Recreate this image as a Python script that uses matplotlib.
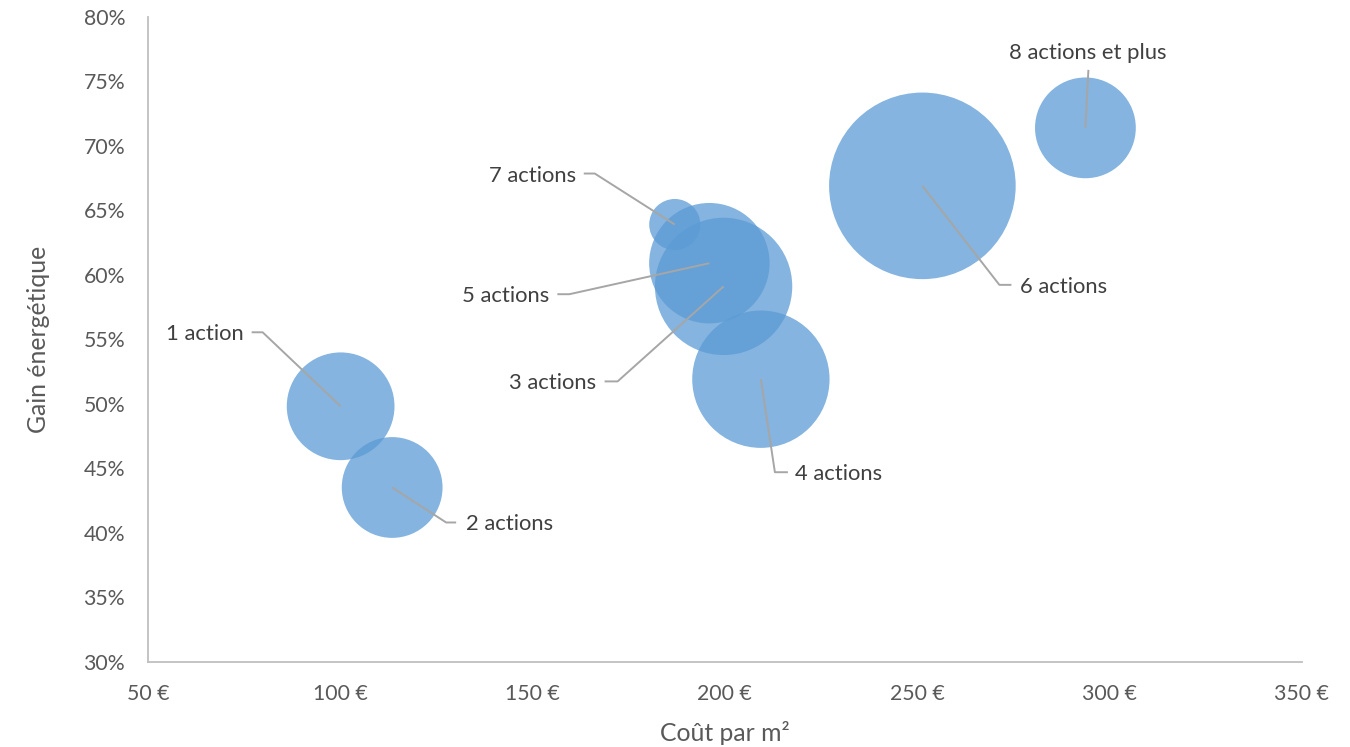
import matplotlib
matplotlib.use("Agg")
import matplotlib.pyplot as plt
from matplotlib.ticker import FuncFormatter, MultipleLocator

# ---- data ----
labels = ["1 action", "2 actions", "3 actions", "4 actions", "5 actions",
          "6 actions", "7 actions", "8 actions et plus"]
cost = [100.1, 113.5, 199.7, 209.4, 196.0, 251.4, 187.0, 293.8]        # € / m²
gain = [49.8, 43.5, 59.1, 51.9, 60.9, 66.9, 63.9, 71.4]                # %
weight = [40, 35, 65, 65, 50, 120, 9, 35]                              # bubble size
x_ticks = [50, 100, 150, 200, 250, 300, 350]
y_ticks = [30, 35, 40, 45, 50, 55, 60, 65, 70, 75, 80]

# ---- style ----
plt.rcParams['font.family'] = ['Lato', 'DejaVu Sans']
DPI = 100
fig = plt.figure(figsize=(13.5, 7.47), dpi=DPI)
W, H = 1350, 747
ax = fig.add_axes([148 / W, 1 - 661.5 / H, (1301.5 - 148) / W, (661.5 - 17) / H])

ax.set_xlim(x_ticks[0], x_ticks[-1])
ax.set_ylim(y_ticks[0], y_ticks[-1])
ax.xaxis.set_major_locator(MultipleLocator(50))
ax.yaxis.set_major_locator(MultipleLocator(5))
ax.xaxis.set_major_formatter(FuncFormatter(lambda v, p: f"{v:.0f} €"))
ax.yaxis.set_major_formatter(FuncFormatter(lambda v, p: f"{v:.0f}%"))
ax.tick_params(axis='both', length=0, labelsize=15.3, labelcolor='#595959')
ax.tick_params(axis='x', pad=16.5)
ax.tick_params(axis='y', pad=16.5)
for s in ['top', 'right']:
    ax.spines[s].set_visible(False)
for s in ['left', 'bottom']:
    ax.spines[s].set_color('#BFBFBF')
    ax.spines[s].set_linewidth(1.3)

ax.set_xlabel("Coût par m²", fontsize=17.8, color='#595959', labelpad=12)
ax.set_ylabel("Gain énergétique", fontsize=17.8, color='#595959', labelpad=24)

size_scale = 150.4
ax.scatter(cost, gain, s=[w * size_scale for w in weight], color='#5B9BD5',
           alpha=0.75, linewidths=0, zorder=2, clip_on=False)

# leader-line geometry, pixel offsets from bubble centre (x right, y down)
# (elbow, end of horizontal segment, text anchor, ha)
leaders = [
    ((-78, -74), (-89, -74), (-97, -72), 'right'),
    ((54, 35), (64, 35), (74, 37), 'left'),
    ((-106, 95), (-119, 95), (-127, 97), 'right'),
    ((14, 93), (27, 93), (34, 95), 'left'),
    ((-140, 31), (-152, 31), (-160, 33), 'right'),
    ((77, 99), (89, 99), (98, 101), 'left'),
    ((-80, -51), (-91, -51), (-99, -49), 'right'),
    ((3, -58), (3, -58), (2, -75), 'center'),
]

fig.canvas.draw()
inv = ax.transData.inverted()
for x, y, lab, (e, f, t, ha) in zip(cost, gain, labels, leaders):
    cx, cy = ax.transData.transform((x, y))
    pts = [(cx, cy), (cx + e[0], cy - e[1]), (cx + f[0], cy - f[1])]
    dpts = inv.transform(pts)
    ax.plot(dpts[:, 0], dpts[:, 1], color='#A6A6A6', lw=1.4, zorder=3,
            clip_on=False, solid_capstyle='butt')
    tx, ty = inv.transform((cx + t[0], cy - t[1]))
    ax.text(tx, ty, lab, ha=ha, va='center', fontsize=15.8, color='#404040',
            zorder=4)

fig.savefig("out.png", dpi=DPI)
